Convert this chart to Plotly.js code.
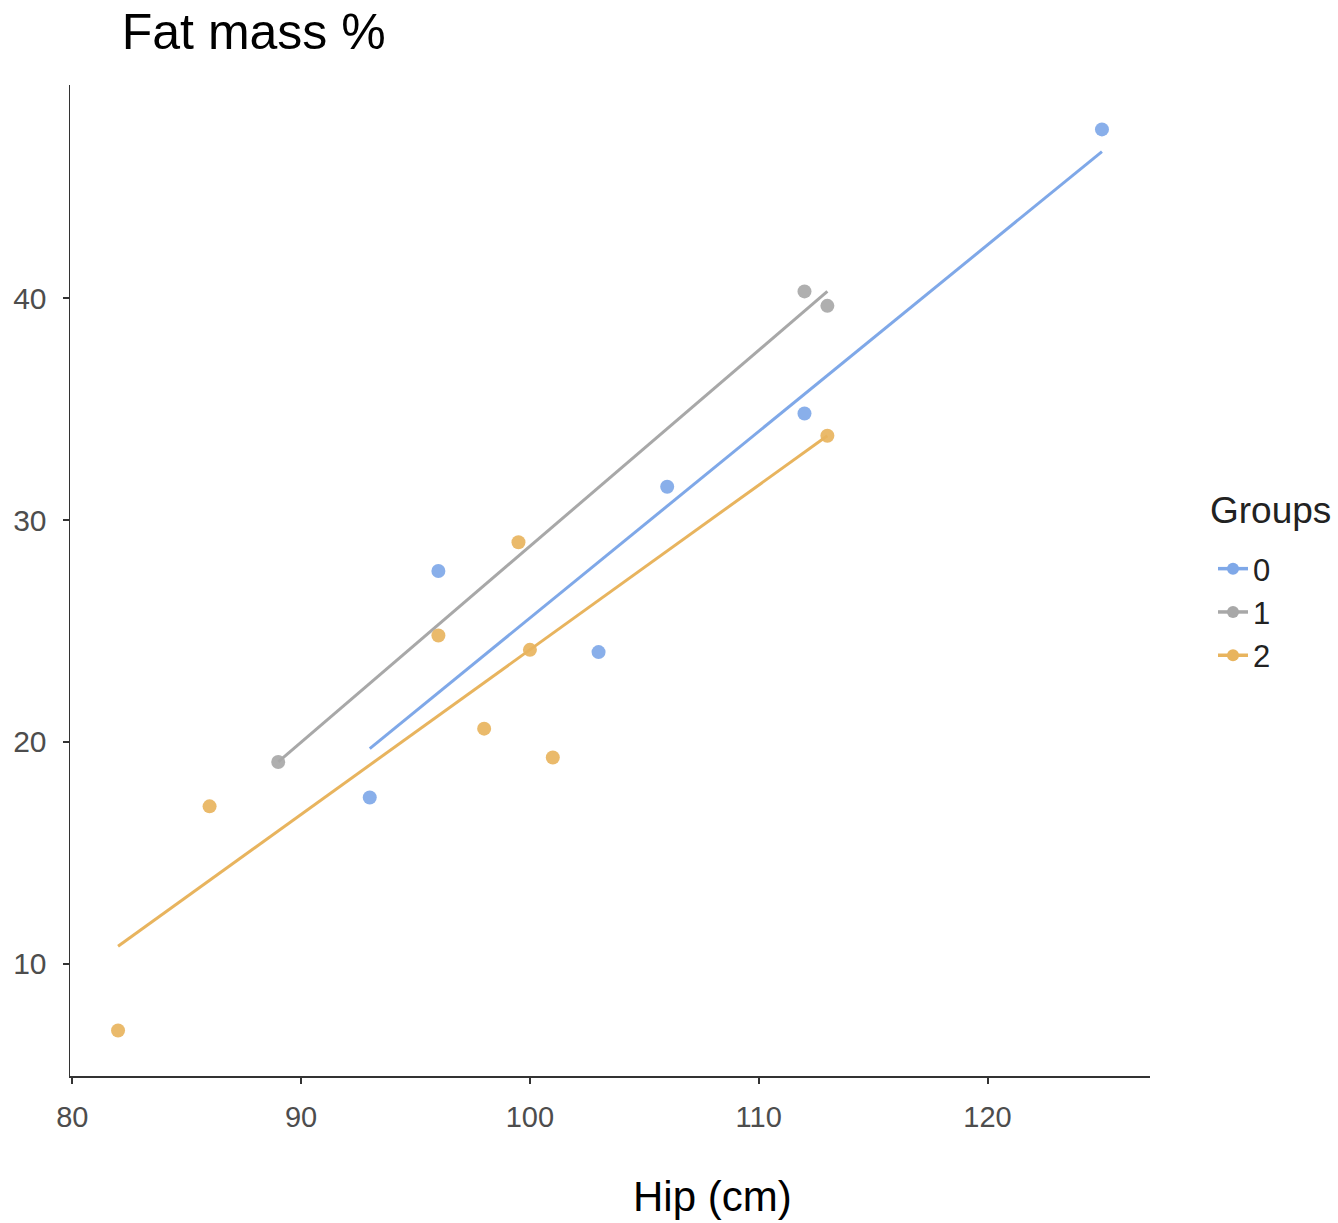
<!DOCTYPE html>
<html>
<head>
<meta charset="utf-8">
<script src="https://cdn.plot.ly/plotly-3.0.1.min.js"></script>
<style>html,body{margin:0;padding:0;background:#fff;}#chart{width:1338px;height:1223px;}</style>
</head>
<body>
<div id="chart"></div>
<script>
// Group names
const groups = ["0", "1", "2"];
const colors = ["#7fa8e8", "#a8a8a8", "#e8b45e"];

// Observed points (Hip cm, Fat mass %)
const hip0 = [93, 96, 103, 106, 112, 125];
const fat0 = [17.5, 27.7, 24.05, 31.5, 34.8, 47.6];
const hip1 = [89, 112, 113];
const fat1 = [19.1, 40.3, 39.65];
const hip2 = [82, 86, 96, 98, 99.5, 100, 101, 113];
const fat2 = [7.0, 17.1, 24.8, 20.6, 29.0, 24.15, 19.3, 33.8];

// Fitted regression line endpoints
const fitX0 = [93, 125];
const fitY0 = [19.7, 46.6];
const fitX1 = [89, 113];
const fitY1 = [19.1, 40.3];
const fitX2 = [82, 113];
const fitY2 = [10.8, 33.8];

const xTicks = [80, 90, 100, 110, 120];
const yTicks = [10, 20, 30, 40];

const pts = [[hip0, fat0], [hip1, fat1], [hip2, fat2]];
const fits = [[fitX0, fitY0], [fitX1, fitY1], [fitX2, fitY2]];

const traces = [];
groups.forEach((g, i) => {
  traces.push({
    x: fits[i][0], y: fits[i][1], mode: 'lines', type: 'scatter',
    line: {color: colors[i], width: 3}, showlegend: false, legendgroup: g, hoverinfo: 'skip'
  });
  traces.push({
    x: pts[i][0], y: pts[i][1], mode: 'markers', type: 'scatter', name: g,
    legendgroup: g, showlegend: false,
    marker: {color: colors[i], size: 14, opacity: 0.92}
  });
});

// legend entries drawn with line+marker style
const legendTraces = groups.map((g, i) => ({
  x: [null], y: [null], mode: 'lines+markers', type: 'scatter', name: g, legendgroup: g,
  line: {color: colors[i], width: 3.5}, marker: {color: colors[i], size: 12}
}));

const layout = {
  width: 1338, height: 1223,
  paper_bgcolor: '#fff', plot_bgcolor: '#fff',
  font: {family: 'Liberation Sans, Arial, sans-serif', color: '#000'},
  margin: {l: 70, r: 188, t: 85, b: 147, autoexpand: false},
  title: {text: 'Fat mass %', font: {size: 50, color: '#000'}, xref: 'container', yref: 'container',
          x: 0.091, xanchor: 'left', y: 0.974, yanchor: 'middle'},
  xaxis: {range: [79.9, 127.1], tickvals: xTicks, ticktext: xTicks.map(String),
          showgrid: false, zeroline: false, showline: true, linecolor: '#333', linewidth: 1.5,
          ticks: 'outside', ticklen: 6, tickwidth: 2, tickcolor: '#333', ticklabelstandoff: 9,
          tickfont: {size: 29, color: '#4d4d4d'}},
  yaxis: {range: [4.95, 49.6], tickvals: yTicks, ticktext: yTicks.map(String),
          showgrid: false, zeroline: false, showline: true, linecolor: '#333', linewidth: 1.5,
          ticks: 'outside', ticklen: 6, tickwidth: 2, tickcolor: '#333', ticklabelstandoff: 10,
          tickfont: {size: 30, color: '#4d4d4d'}},
  annotations: [
    {text: 'Hip (cm)', xref: 'paper', yref: 'paper', x: 0.595, y: -0.122,
     xanchor: 'center', yanchor: 'middle', showarrow: false, font: {size: 42, color: '#000'}},
    {text: 'Groups', xref: 'paper', yref: 'paper', x: (1208 - 70) / 1080, y: (1076 - 510) / 991,
     xanchor: 'left', yanchor: 'middle', showarrow: false, font: {size: 37, color: '#222'}}
  ],
  legend: {font: {size: 31, color: '#222'},
           x: (1213 - 70) / 1080, xanchor: 'left', y: (1076 - 542) / 991, yanchor: 'top',
           tracegroupgap: 0, itemwidth: 30, bgcolor: 'rgba(0,0,0,0)'},
  hovermode: false
};

Plotly.newPlot('chart', traces.concat(legendTraces), layout, {displayModeBar: false, staticPlot: true});
</script>
</body>
</html>
